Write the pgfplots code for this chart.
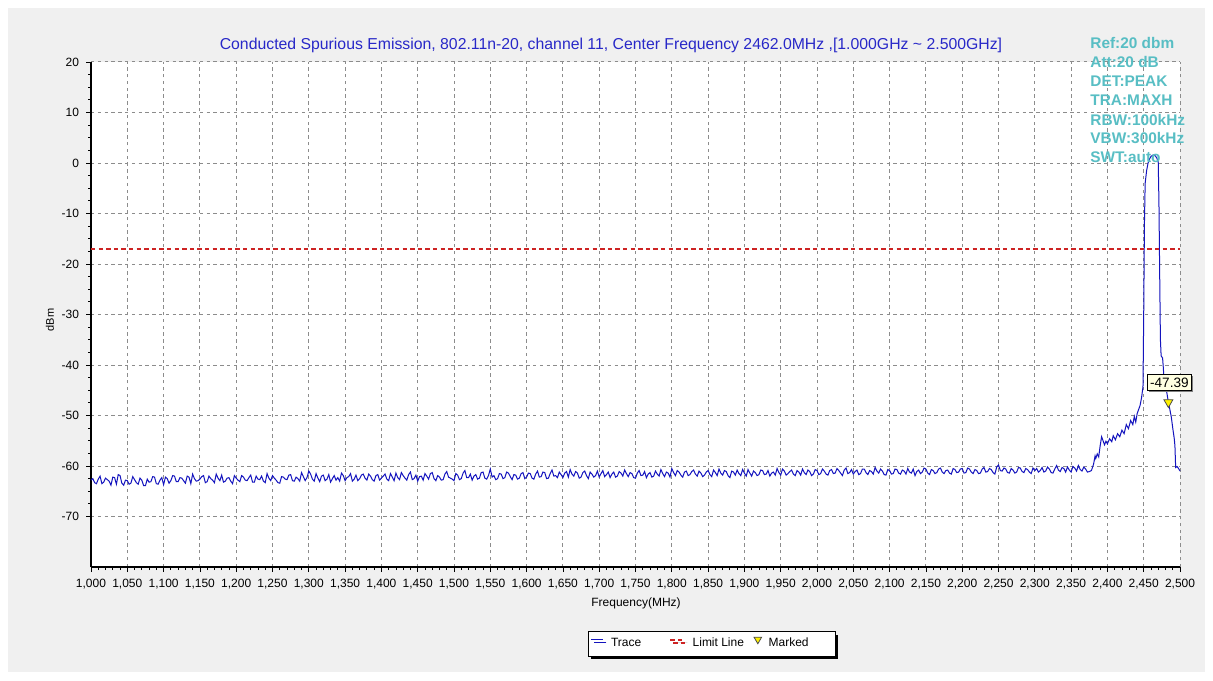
\documentclass[border=0pt]{standalone}
\usepackage{pgfplots}
\pgfplotsset{compat=1.18}
\usepackage{fontspec}
\setmainfont{Liberation Sans}
\usetikzlibrary{shadows}
\definecolor{tracec}{RGB}{20,20,190}
\definecolor{limitc}{RGB}{205,35,35}
\definecolor{infoc}{RGB}{88,190,196}
\definecolor{bgc}{RGB}{240,240,240}
\definecolor{gridc}{RGB}{140,140,140}
\definecolor{titlec}{RGB}{40,40,200}
\definecolor{tipc}{RGB}{255,255,225}

\begin{document}
\begin{tikzpicture}
\fill[white] (0pt,0pt) rectangle (606.5pt,-340pt);
\fill[bgc] (4pt,-4pt) rectangle (602.5pt,-336pt);
\begin{axis}[
  at={(45.5pt,-283.5pt)}, anchor=south west,
  scale only axis, width=544.5pt, height=252.5pt,
  xmin=1000, xmax=2500, ymin=-80, ymax=20,
  clip=false,
  axis x line=bottom, axis y line=left,
  axis line style={-, black, line width=1pt},
  axis background/.style={fill=white},
  xtick={1000,1050,...,2500},
  ytick={-70,-60,...,20},
  minor x tick num=4, minor y tick num=3,
  tick align=outside,
  major tick length=2.5pt, minor tick length=1.5pt,
  every tick/.style={black, line width=0.4pt},
  grid=major,
  major grid style={gridc, line width=0.5pt, dash pattern=on 1.7pt off 1.7pt},
  scaled x ticks=false,
  /pgf/number format/assume math mode=true,
  xticklabel style={font=\fontsize{6}{7}\selectfont, /pgf/number format/1000 sep={,}},
  yticklabel style={font=\fontsize{6}{7}\selectfont},
  xlabel={Frequency(MHz)},
  xlabel style={font=\fontsize{6}{7}\selectfont, at={(axis description cs:0.5005,0)}, anchor=center, yshift=-18pt},
  ylabel={dBm},
  ylabel style={font=\fontsize{5.5}{6}\selectfont, at={(axis description cs:-0.0377,0.489)}, anchor=center},
  legend columns=3,
  legend cell align=left,
  legend style={at={(0.570,-0.152)}, anchor=center, draw=black, fill=white,
    line width=0.5pt, font=\fontsize{6}{7}\selectfont, inner sep=1.2pt,
    /tikz/every odd column/.append style={column sep=1.5pt},
    /tikz/every even column/.append style={column sep=0pt},
    drop shadow={shadow xshift=1.5pt, shadow yshift=-1.5pt, fill=black, opacity=1}},
]
\addplot[tracec, line width=0.5pt, mark=none,
  legend image code/.code={\draw[tracec, line width=0.6pt] (0pt,2pt) -- (6pt,2pt);}]
  coordinates {
(1000,-62.8) (1002.5,-62.5) (1005,-63.3) (1007.5,-63.5) (1010,-62.6) (1012.5,-62.0) (1015,-63.5) (1017.5,-63.2) (1020,-62.4) (1022.5,-62.7)
(1025,-63.0) (1027.5,-63.8) (1030,-62.2) (1032.5,-62.3) (1035,-63.6) (1037.5,-61.7) (1040,-61.9) (1042.5,-63.4) (1045,-63.8) (1047.5,-62.8)
(1050,-62.9) (1052.5,-63.6) (1055,-63.4) (1057.5,-62.1) (1060,-62.7) (1062.5,-63.3) (1065,-63.6) (1067.5,-62.4) (1070,-62.8) (1072.5,-63.9)
(1075,-63.9) (1077.5,-62.6) (1080,-63.2) (1082.5,-63.1) (1085,-62.1) (1087.5,-62.2) (1090,-63.5) (1092.5,-63.6) (1095,-62.8) (1097.5,-62.3)
(1100,-63.7) (1102.5,-62.2) (1105,-62.5) (1107.5,-63.4) (1110,-62.9) (1112.5,-61.9) (1115,-62.0) (1117.5,-63.1) (1120,-63.1) (1122.5,-62.3)
(1125,-62.4) (1127.5,-62.9) (1130,-63.4) (1132.5,-62.0) (1135,-62.2) (1137.5,-63.5) (1140,-61.6) (1142.5,-62.5) (1145,-63.0) (1147.5,-62.9)
(1150,-62.6) (1152.5,-62.1) (1155,-61.9) (1157.5,-63.3) (1160,-63.1) (1162.5,-62.0) (1165,-62.5) (1167.5,-62.8) (1170,-63.3) (1172.5,-61.6)
(1175,-62.4) (1177.5,-62.9) (1180,-61.8) (1182.5,-63.2) (1185,-63.0) (1187.5,-62.4) (1190,-62.3) (1192.5,-63.0) (1195,-63.5) (1197.5,-61.9)
(1200,-62.4) (1202.5,-62.8) (1205,-63.1) (1207.5,-61.9) (1210,-62.2) (1212.5,-62.8) (1215,-62.9) (1217.5,-62.3) (1220,-61.8) (1222.5,-63.2)
(1225,-63.2) (1227.5,-62.0) (1230,-62.6) (1232.5,-62.7) (1235,-62.0) (1237.5,-63.0) (1240,-63.3) (1242.5,-61.5) (1245,-62.4) (1247.5,-62.9)
(1250,-61.9) (1252.5,-62.4) (1255,-62.8) (1257.5,-63.3) (1260,-63.4) (1262.5,-62.1) (1265,-62.2) (1267.5,-62.6) (1270,-62.7) (1272.5,-61.8)
(1275,-61.7) (1277.5,-62.9) (1280,-63.0) (1282.5,-62.2) (1285,-62.5) (1287.5,-63.0) (1290,-61.3) (1292.5,-62.1) (1295,-62.9) (1297.5,-62.3)
(1300,-61.0) (1302.5,-61.6) (1305,-62.6) (1307.5,-63.0) (1310,-61.5) (1312.5,-62.4) (1315,-63.1) (1317.5,-62.0) (1320,-61.8) (1322.5,-62.9)
(1325,-62.6) (1327.5,-61.7) (1330,-63.2) (1332.5,-62.5) (1335,-61.9) (1337.5,-62.8) (1340,-62.3) (1342.5,-63.0) (1345,-61.4) (1347.5,-61.9)
(1350,-62.9) (1352.5,-62.3) (1355,-62.1) (1357.5,-61.5) (1360,-63.0) (1362.5,-62.6) (1365,-61.8) (1367.5,-62.9) (1370,-62.5) (1372.5,-61.8)
(1375,-61.6) (1377.5,-62.4) (1380,-62.8) (1382.5,-61.6) (1385,-62.0) (1387.5,-62.7) (1390,-63.0) (1392.5,-61.9) (1395,-61.7) (1397.5,-62.8)
(1400,-62.4) (1402.5,-62.0) (1405,-61.6) (1407.5,-62.6) (1410,-62.9) (1412.5,-61.5) (1415,-62.2) (1417.5,-62.9) (1420,-61.4) (1422.5,-62.3)
(1425,-62.7) (1427.5,-61.3) (1430,-61.9) (1432.5,-62.4) (1435,-62.8) (1437.5,-61.7) (1440,-61.2) (1442.5,-62.7) (1445,-62.5) (1447.5,-61.8)
(1450,-63.0) (1452.5,-62.1) (1455,-62.0) (1457.5,-62.8) (1460,-61.5) (1462.5,-62.0) (1465,-62.6) (1467.5,-61.5) (1470,-61.3) (1472.5,-62.5)
(1475,-62.9) (1477.5,-61.9) (1480,-62.2) (1482.5,-62.8) (1485,-62.7) (1487.5,-61.6) (1490,-61.1) (1492.5,-62.2) (1495,-62.4) (1497.5,-62.6)
(1500,-62.9) (1502.5,-61.5) (1505,-61.8) (1507.5,-62.7) (1510,-62.5) (1512.5,-61.4) (1515,-60.9) (1517.5,-62.3) (1520,-62.3) (1522.5,-61.6)
(1525,-62.8) (1527.5,-62.0) (1530,-61.7) (1532.5,-62.6) (1535,-62.4) (1537.5,-61.3) (1540,-61.2) (1542.5,-62.4) (1545,-62.6) (1547.5,-61.9)
(1550,-60.6) (1552.5,-62.2) (1555,-61.9) (1557.5,-62.7) (1560,-62.5) (1562.5,-61.5) (1565,-61.6) (1567.5,-62.5) (1570,-62.3) (1572.5,-61.2)
(1575,-61.4) (1577.5,-62.1) (1580,-62.7) (1582.5,-61.7) (1585,-61.8) (1587.5,-62.6) (1590,-62.4) (1592.5,-61.5) (1595,-61.3) (1597.5,-62.5)
(1600,-62.2) (1602.5,-61.4) (1605,-61.5) (1607.5,-62.4) (1610,-62.6) (1612.5,-61.6) (1615,-61.0) (1617.5,-62.2) (1620,-62.1) (1622.5,-61.2)
(1625,-61.3) (1627.5,-62.5) (1630,-62.4) (1632.5,-61.5) (1635,-60.8) (1637.5,-62.0) (1640,-61.9) (1642.5,-62.3) (1645,-61.2) (1647.5,-61.7)
(1650,-62.3) (1652.5,-61.4) (1655,-61.1) (1657.5,-62.2) (1660,-60.7) (1662.5,-61.6) (1665,-62.0) (1667.5,-61.1) (1670,-61.4) (1672.5,-62.4)
(1675,-62.2) (1677.5,-61.3) (1680,-61.0) (1682.5,-61.9) (1685,-62.5) (1687.5,-61.2) (1690,-61.6) (1692.5,-62.2) (1695,-61.9) (1697.5,-61.0)
(1700,-62.2) (1702.5,-61.5) (1705,-60.9) (1707.5,-62.1) (1710,-61.7) (1712.5,-61.2) (1715,-62.3) (1717.5,-61.6) (1720,-61.2) (1722.5,-62.2)
(1725,-62.0) (1727.5,-61.1) (1730,-61.4) (1732.5,-62.0) (1735,-60.8) (1737.5,-61.5) (1740,-62.1) (1742.5,-61.3) (1745,-61.5) (1747.5,-62.3)
(1750,-62.4) (1752.5,-61.4) (1755,-60.9) (1757.5,-61.9) (1760,-61.8) (1762.5,-61.1) (1765,-62.3) (1767.5,-61.6) (1770,-61.3) (1772.5,-62.2)
(1775,-62.0) (1777.5,-61.0) (1780,-61.6) (1782.5,-62.0) (1785,-60.7) (1787.5,-61.5) (1790,-62.1) (1792.5,-61.2) (1795,-61.4) (1797.5,-62.2)
(1800,-60.5) (1802.5,-61.3) (1805,-61.9) (1807.5,-60.9) (1810,-61.2) (1812.5,-61.8) (1815,-62.2) (1817.5,-61.2) (1820,-61.0) (1822.5,-61.9)
(1825,-61.7) (1827.5,-61.1) (1830,-60.8) (1832.5,-61.6) (1835,-62.0) (1837.5,-61.0) (1840,-61.4) (1842.5,-62.1) (1845,-61.8) (1847.5,-61.2)
(1850,-60.9) (1852.5,-61.7) (1855,-62.1) (1857.5,-60.8) (1860,-61.3) (1862.5,-61.9) (1865,-60.6) (1867.5,-61.4) (1870,-61.8) (1872.5,-60.9)
(1875,-61.1) (1877.5,-61.9) (1880,-62.3) (1882.5,-61.0) (1885,-61.2) (1887.5,-61.8) (1890,-60.8) (1892.5,-61.5) (1895,-61.9) (1897.5,-60.7)
(1900,-61.4) (1902.5,-62.0) (1905,-60.7) (1907.5,-61.4) (1910,-62.0) (1912.5,-61.0) (1915,-61.3) (1917.5,-61.9) (1920,-61.7) (1922.5,-60.8)
(1925,-60.9) (1927.5,-61.7) (1930,-61.6) (1932.5,-60.9) (1935,-62.0) (1937.5,-61.4) (1940,-61.2) (1942.5,-61.8) (1945,-60.5) (1947.5,-61.3)
(1950,-61.8) (1952.5,-60.6) (1955,-61.0) (1957.5,-61.8) (1960,-61.5) (1962.5,-61.1) (1965,-60.8) (1967.5,-61.6) (1970,-61.9) (1972.5,-60.9)
(1975,-61.2) (1977.5,-61.8) (1980,-60.6) (1982.5,-61.3) (1985,-61.7) (1987.5,-60.8) (1990,-61.1) (1992.5,-61.9) (1995,-61.6) (1997.5,-60.7)
(2000,-60.9) (2002.5,-61.7) (2005,-61.5) (2007.5,-60.6) (2010,-61.0) (2012.5,-61.6) (2015,-61.8) (2017.5,-60.9) (2020,-60.7) (2022.5,-61.5)
(2025,-61.4) (2027.5,-60.5) (2030,-60.9) (2032.5,-61.4) (2035,-61.9) (2037.5,-60.8) (2040,-60.4) (2042.5,-61.5) (2045,-61.3) (2047.5,-60.7)
(2050,-61.6) (2052.5,-61.1) (2055,-60.8) (2057.5,-61.7) (2060,-61.5) (2062.5,-60.6) (2065,-60.6) (2067.5,-61.3) (2070,-61.7) (2072.5,-60.9)
(2075,-61.1) (2077.5,-61.6) (2080,-60.3) (2082.5,-61.0) (2085,-61.4) (2087.5,-60.6) (2090,-61.0) (2092.5,-61.7) (2095,-61.8) (2097.5,-60.7)
(2100,-60.9) (2102.5,-61.6) (2105,-61.5) (2107.5,-60.6) (2110,-60.7) (2112.5,-61.4) (2115,-61.6) (2117.5,-60.8) (2120,-61.0) (2122.5,-61.6)
(2125,-60.5) (2127.5,-61.2) (2130,-61.4) (2132.5,-60.6) (2135,-61.9) (2137.5,-61.1) (2140,-60.8) (2142.5,-61.5) (2145,-61.2) (2147.5,-60.4)
(2150,-60.6) (2152.5,-61.4) (2155,-61.7) (2157.5,-60.7) (2160,-60.9) (2162.5,-61.5) (2165,-61.3) (2167.5,-60.6) (2170,-60.4) (2172.5,-61.2)
(2175,-61.5) (2177.5,-60.9) (2180,-60.8) (2182.5,-61.4) (2185,-61.6) (2187.5,-60.5) (2190,-60.7) (2192.5,-61.3) (2195,-61.2) (2197.5,-60.6)
(2200,-60.5) (2202.5,-61.4) (2205,-61.3) (2207.5,-60.4) (2210,-60.6) (2212.5,-61.2) (2215,-61.5) (2217.5,-60.7) (2220,-60.9) (2222.5,-61.5)
(2225,-61.4) (2227.5,-60.6) (2230,-60.3) (2232.5,-61.2) (2235,-61.1) (2237.5,-60.5) (2240,-60.7) (2242.5,-61.3) (2245,-61.6) (2247.5,-60.2)
(2250,-59.8) (2252.5,-60.9) (2255,-61.0) (2257.5,-60.4) (2260,-60.6) (2262.5,-61.3) (2265,-61.4) (2267.5,-60.5) (2270,-60.8) (2272.5,-61.4)
(2275,-61.2) (2277.5,-60.3) (2280,-60.4) (2282.5,-61.1) (2285,-61.3) (2287.5,-60.5) (2290,-60.7) (2292.5,-61.2) (2295,-61.5) (2297.5,-60.4)
(2300,-60.9) (2302.5,-60.5) (2305,-61.2) (2307.5,-60.9) (2310,-60.3) (2312.5,-61.2) (2315,-61.0) (2317.5,-60.2) (2320,-60.6) (2322.5,-61.3)
(2325,-61.4) (2327.5,-60.6) (2330,-59.9) (2332.5,-60.8) (2335,-61.1) (2337.5,-60.3) (2340,-60.5) (2342.5,-61.2) (2345,-60.2) (2347.5,-60.8)
(2350,-61.2) (2352.5,-60.1) (2355,-60.4) (2357.5,-61.0) (2360,-59.9) (2362.5,-60.7) (2365,-61.0) (2367.5,-60.2) (2370,-60.6) (2372.5,-61.2)
(2375,-61.1) (2378,-60.9) (2381,-59.6) (2383,-58.0) (2384,-58.5) (2386,-57.6) (2388,-58.2) (2390,-56.0) (2392,-54.2) (2394,-55.0)
(2396,-55.8) (2398,-55.1) (2400,-55.6) (2403,-54.6) (2406,-55.2) (2408,-54.0) (2411,-54.8) (2414,-53.6) (2417,-54.2) (2420,-52.9)
(2423,-53.6) (2426,-51.8) (2429,-52.6) (2432,-51.0) (2435,-51.8) (2437,-50.2) (2439,-51.3) (2441,-49.6) (2443,-48.8) (2445,-48.0)
(2447,-46.5) (2449,-44.3) (2450,-30.0) (2451,-12.0) (2452,-4.0) (2454,-1.5) (2456,0.0) (2458,0.8) (2460,1.3) (2463,1.6)
(2466,1.4) (2468,1.0) (2470,0.2) (2471,-8.0) (2472,-22.0) (2473,-35.0) (2474,-38.2) (2476,-38.6) (2477,-40.5) (2478,-43.0)
(2480,-44.2) (2482,-45.6) (2484,-47.4) (2486,-48.8) (2488,-50.3) (2490,-52.5) (2492,-54.5) (2493,-56.0) (2494,-60.3) (2496,-60.1)
(2498,-60.5) (2500,-61.0)
};
\addlegendentry{Trace\rule{12pt}{0pt}}
\addplot[limitc, line width=1.2pt, dash pattern=on 2.2pt off 1.6pt, mark=none,
  legend image code/.code={\draw[limitc, line width=1.2pt, dash pattern=on 2.2pt off 1.6pt] (0pt,2pt) -- (7pt,2pt);}]
  coordinates {(1000,-17) (2500,-17)};
\addlegendentry{Limit Line\rule{3pt}{0pt}}
\addplot[only marks, mark=triangle*, mark size=2.6pt,
  mark options={rotate=180, fill=yellow, draw=black!70, line width=0.4pt},
  legend image code/.code={\draw[draw=none] plot[mark=triangle*, mark size=2.2pt, mark options={rotate=180, fill=yellow, draw=black!70, line width=0.4pt}] coordinates {(3pt,2.2pt)};}]
  coordinates {(2484,-47.39)};
\addlegendentry{Marked\rule{10pt}{0pt}}
\node[draw=black, line width=0.4pt, fill=tipc, inner sep=1.5pt, font=\fontsize{6.8}{8}\selectfont,
  drop shadow={shadow xshift=0.8pt, shadow yshift=-0.8pt, fill=black!50, opacity=1}]
  at (axis cs:2484,-47.39) [xshift=0.5pt, yshift=10pt] {-47.39};
\end{axis}
\node[font=\fontsize{7.9}{9}\selectfont, text=titlec] at (305.5pt,-22.5pt) {Conducted Spurious Emission, 802.11n-20, channel 11, Center Frequency 2462.0MHz ,[1.000GHz \textasciitilde{} 2.500GHz]};
\begin{scope}[every node/.style={font=\fontsize{7.7}{9}\selectfont\bfseries, text=infoc, anchor=west, inner sep=0pt}]
\node at (545pt,-21.35pt) {Ref:20 dbm};
\node at (545pt,-30.85pt) {Att:20 dB};
\node at (545pt,-40.5pt) {DET:PEAK};
\node at (545pt,-50pt) {TRA:MAXH};
\node at (545pt,-60pt) {RBW:100kHz};
\node at (545pt,-69.25pt) {VBW:300kHz};
\node at (545pt,-78.5pt) {SWT:auto};
\end{scope}
\end{tikzpicture}
\end{document}
